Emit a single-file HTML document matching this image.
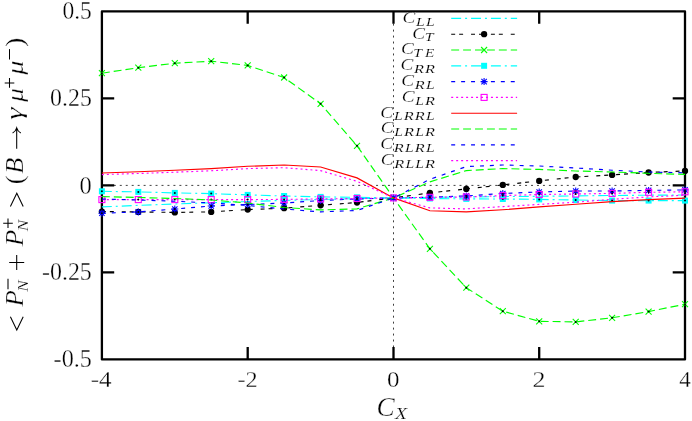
<!DOCTYPE html>
<html><head><meta charset="utf-8"><title>plot</title>
<style>html,body{margin:0;padding:0;background:#fff}body{width:692px;height:421px;overflow:hidden}svg{display:block}</style>
</head><body>
<svg width="692" height="421" viewBox="0 0 692 421">
<rect width="692" height="421" fill="#fff"/>
<rect x="101.9" y="11.4" width="583.1" height="348.0" fill="none" stroke="#000" stroke-width="2.3" stroke-linejoin="round"/>
<path d="M247.7 359.4v-12.3M247.7 11.4v12.3M393.5 359.4v-12.3M393.5 11.4v12.3M539.2 359.4v-12.3M539.2 11.4v12.3M101.9 98.4h12.3M685.0 98.4h-12.3M101.9 185.4h12.3M685.0 185.4h-12.3M101.9 272.4h12.3M685.0 272.4h-12.3" stroke="#000" stroke-width="2.3" fill="none"/>
<line x1="101.9" y1="185.4" x2="685.0" y2="185.4" stroke="#000" stroke-width="0.75" stroke-dasharray="1.99 3.97"/>
<line x1="393.5" y1="359.4" x2="393.5" y2="11.4" stroke="#000" stroke-width="0.75" stroke-dasharray="1.99 3.97"/>
<g id="sLL">
<polyline points="101.9,206.9 138.3,205.4 174.8,204.0 211.2,202.7 247.7,201.5 284.1,200.4 320.6,199.5 357.0,198.6 393.5,197.9 429.9,197.4 466.3,197.0 502.8,196.6 539.2,196.3 575.7,195.9 612.1,195.5 648.6,195.2 685.0,195.0" fill="none" stroke="#00ffff" stroke-width="1.15" stroke-dasharray="9.93 3.97 1.99 3.97"/>
<line x1="451.2" y1="18.4" x2="517.1" y2="18.4" stroke="#00ffff" stroke-width="1.15" stroke-dasharray="9.93 3.97 1.99 3.97"/>
</g>
<g id="sT">
<polyline points="101.9,211.6 138.3,211.9 174.8,212.4 211.2,211.9 247.7,209.6 284.1,208.2 320.6,205.3 357.0,202.5 393.5,197.9 429.9,192.9 466.3,188.9 502.8,184.9 539.2,180.9 575.7,177.0 612.1,174.9 648.6,172.5 685.0,170.9" fill="none" stroke="#000000" stroke-width="1.15" stroke-dasharray="3.97 3.97 3.97 7.94"/>
<circle cx="101.9" cy="211.6" r="3.15" fill="#000000"/>
<circle cx="138.3" cy="211.9" r="3.15" fill="#000000"/>
<circle cx="174.8" cy="212.4" r="3.15" fill="#000000"/>
<circle cx="211.2" cy="211.9" r="3.15" fill="#000000"/>
<circle cx="247.7" cy="209.6" r="3.15" fill="#000000"/>
<circle cx="284.1" cy="208.2" r="3.15" fill="#000000"/>
<circle cx="320.6" cy="205.3" r="3.15" fill="#000000"/>
<circle cx="357.0" cy="202.5" r="3.15" fill="#000000"/>
<circle cx="393.5" cy="197.9" r="3.15" fill="#000000"/>
<circle cx="429.9" cy="192.9" r="3.15" fill="#000000"/>
<circle cx="466.3" cy="188.9" r="3.15" fill="#000000"/>
<circle cx="502.8" cy="184.9" r="3.15" fill="#000000"/>
<circle cx="539.2" cy="180.9" r="3.15" fill="#000000"/>
<circle cx="575.7" cy="177.0" r="3.15" fill="#000000"/>
<circle cx="612.1" cy="174.9" r="3.15" fill="#000000"/>
<circle cx="648.6" cy="172.5" r="3.15" fill="#000000"/>
<circle cx="685.0" cy="170.9" r="3.15" fill="#000000"/>
<line x1="451.2" y1="34.2" x2="517.1" y2="34.2" stroke="#000000" stroke-width="1.15" stroke-dasharray="3.97 3.97 3.97 7.94"/>
<circle cx="484.1" cy="34.2" r="3.15" fill="#000000"/>
</g>
<g id="sTE">
<polyline points="101.9,73.2 138.3,67.7 174.8,63.2 211.2,61.2 247.7,65.4 284.1,77.5 320.6,103.8 357.0,145.8 393.5,197.9 429.9,248.8 466.3,287.7 502.8,311.2 539.2,321.3 575.7,321.9 612.1,317.8 648.6,311.6 685.0,304.2" fill="none" stroke="#00ff00" stroke-width="1.15" stroke-dasharray="7.94 3.97"/>
<path d="M98.9 70.2L104.9 76.2M98.9 76.2L104.9 70.2" stroke="#00ff00" stroke-width="1.1" fill="none"/><circle cx="101.9" cy="73.2" r="1.0" fill="#000"/>
<path d="M135.3 64.7L141.3 70.7M135.3 70.7L141.3 64.7" stroke="#00ff00" stroke-width="1.1" fill="none"/><circle cx="138.3" cy="67.7" r="1.0" fill="#000"/>
<path d="M171.8 60.2L177.8 66.2M171.8 66.2L177.8 60.2" stroke="#00ff00" stroke-width="1.1" fill="none"/><circle cx="174.8" cy="63.2" r="1.0" fill="#000"/>
<path d="M208.2 58.2L214.2 64.2M208.2 64.2L214.2 58.2" stroke="#00ff00" stroke-width="1.1" fill="none"/><circle cx="211.2" cy="61.2" r="1.0" fill="#000"/>
<path d="M244.7 62.4L250.7 68.4M244.7 68.4L250.7 62.4" stroke="#00ff00" stroke-width="1.1" fill="none"/><circle cx="247.7" cy="65.4" r="1.0" fill="#000"/>
<path d="M281.1 74.5L287.1 80.5M281.1 80.5L287.1 74.5" stroke="#00ff00" stroke-width="1.1" fill="none"/><circle cx="284.1" cy="77.5" r="1.0" fill="#000"/>
<path d="M317.6 100.8L323.6 106.8M317.6 106.8L323.6 100.8" stroke="#00ff00" stroke-width="1.1" fill="none"/><circle cx="320.6" cy="103.8" r="1.0" fill="#000"/>
<path d="M354.0 142.8L360.0 148.8M354.0 148.8L360.0 142.8" stroke="#00ff00" stroke-width="1.1" fill="none"/><circle cx="357.0" cy="145.8" r="1.0" fill="#000"/>
<path d="M390.5 194.9L396.5 200.9M390.5 200.9L396.5 194.9" stroke="#00ff00" stroke-width="1.1" fill="none"/><circle cx="393.5" cy="197.9" r="1.0" fill="#000"/>
<path d="M426.9 245.8L432.9 251.8M426.9 251.8L432.9 245.8" stroke="#00ff00" stroke-width="1.1" fill="none"/><circle cx="429.9" cy="248.8" r="1.0" fill="#000"/>
<path d="M463.3 284.7L469.3 290.7M463.3 290.7L469.3 284.7" stroke="#00ff00" stroke-width="1.1" fill="none"/><circle cx="466.3" cy="287.7" r="1.0" fill="#000"/>
<path d="M499.8 308.2L505.8 314.2M499.8 314.2L505.8 308.2" stroke="#00ff00" stroke-width="1.1" fill="none"/><circle cx="502.8" cy="311.2" r="1.0" fill="#000"/>
<path d="M536.2 318.3L542.2 324.3M536.2 324.3L542.2 318.3" stroke="#00ff00" stroke-width="1.1" fill="none"/><circle cx="539.2" cy="321.3" r="1.0" fill="#000"/>
<path d="M572.7 318.9L578.7 324.9M572.7 324.9L578.7 318.9" stroke="#00ff00" stroke-width="1.1" fill="none"/><circle cx="575.7" cy="321.9" r="1.0" fill="#000"/>
<path d="M609.1 314.8L615.1 320.8M609.1 320.8L615.1 314.8" stroke="#00ff00" stroke-width="1.1" fill="none"/><circle cx="612.1" cy="317.8" r="1.0" fill="#000"/>
<path d="M645.6 308.6L651.6 314.6M645.6 314.6L651.6 308.6" stroke="#00ff00" stroke-width="1.1" fill="none"/><circle cx="648.6" cy="311.6" r="1.0" fill="#000"/>
<path d="M682.0 301.2L688.0 307.2M682.0 307.2L688.0 301.2" stroke="#00ff00" stroke-width="1.1" fill="none"/><circle cx="685.0" cy="304.2" r="1.0" fill="#000"/>
<line x1="451.2" y1="50.0" x2="517.1" y2="50.0" stroke="#00ff00" stroke-width="1.15" stroke-dasharray="7.94 3.97"/>
<path d="M481.1 47.0L487.1 53.0M481.1 53.0L487.1 47.0" stroke="#00ff00" stroke-width="1.1" fill="none"/>
</g>
<g id="sRR">
<polyline points="101.9,191.3 138.3,191.9 174.8,192.9 211.2,193.6 247.7,194.9 284.1,196.0 320.6,196.9 357.0,197.3 393.5,197.9 429.9,198.5 466.3,198.9 502.8,199.0 539.2,199.4 575.7,200.0 612.1,200.6 648.6,200.6 685.0,200.6" fill="none" stroke="#00ffff" stroke-width="1.15" stroke-dasharray="9.93 3.97 1.99 3.97"/>
<rect x="98.9" y="188.3" width="6.0" height="6.0" fill="#00ffff"/><circle cx="101.9" cy="191.3" r="1.0" fill="#000"/>
<rect x="135.3" y="188.9" width="6.0" height="6.0" fill="#00ffff"/><circle cx="138.3" cy="191.9" r="1.0" fill="#000"/>
<rect x="171.8" y="189.9" width="6.0" height="6.0" fill="#00ffff"/><circle cx="174.8" cy="192.9" r="1.0" fill="#000"/>
<rect x="208.2" y="190.6" width="6.0" height="6.0" fill="#00ffff"/><circle cx="211.2" cy="193.6" r="1.0" fill="#000"/>
<rect x="244.7" y="191.9" width="6.0" height="6.0" fill="#00ffff"/><circle cx="247.7" cy="194.9" r="1.0" fill="#000"/>
<rect x="281.1" y="193.0" width="6.0" height="6.0" fill="#00ffff"/><circle cx="284.1" cy="196.0" r="1.0" fill="#000"/>
<rect x="317.6" y="193.9" width="6.0" height="6.0" fill="#00ffff"/><circle cx="320.6" cy="196.9" r="1.0" fill="#000"/>
<rect x="354.0" y="194.3" width="6.0" height="6.0" fill="#00ffff"/><circle cx="357.0" cy="197.3" r="1.0" fill="#000"/>
<rect x="390.5" y="194.9" width="6.0" height="6.0" fill="#00ffff"/><circle cx="393.5" cy="197.9" r="1.0" fill="#000"/>
<rect x="426.9" y="195.5" width="6.0" height="6.0" fill="#00ffff"/><circle cx="429.9" cy="198.5" r="1.0" fill="#000"/>
<rect x="463.3" y="195.9" width="6.0" height="6.0" fill="#00ffff"/><circle cx="466.3" cy="198.9" r="1.0" fill="#000"/>
<rect x="499.8" y="196.0" width="6.0" height="6.0" fill="#00ffff"/><circle cx="502.8" cy="199.0" r="1.0" fill="#000"/>
<rect x="536.2" y="196.4" width="6.0" height="6.0" fill="#00ffff"/><circle cx="539.2" cy="199.4" r="1.0" fill="#000"/>
<rect x="572.7" y="197.0" width="6.0" height="6.0" fill="#00ffff"/><circle cx="575.7" cy="200.0" r="1.0" fill="#000"/>
<rect x="609.1" y="197.6" width="6.0" height="6.0" fill="#00ffff"/><circle cx="612.1" cy="200.6" r="1.0" fill="#000"/>
<rect x="645.6" y="197.6" width="6.0" height="6.0" fill="#00ffff"/><circle cx="648.6" cy="200.6" r="1.0" fill="#000"/>
<rect x="682.0" y="197.6" width="6.0" height="6.0" fill="#00ffff"/><circle cx="685.0" cy="200.6" r="1.0" fill="#000"/>
<line x1="451.2" y1="65.8" x2="517.1" y2="65.8" stroke="#00ffff" stroke-width="1.15" stroke-dasharray="9.93 3.97 1.99 3.97"/>
<rect x="481.1" y="62.8" width="6.0" height="6.0" fill="#00ffff"/>
</g>
<g id="sRL">
<polyline points="101.9,213.2 138.3,211.9 174.8,209.0 211.2,206.0 247.7,204.5 284.1,203.0 320.6,200.5 357.0,199.0 393.5,197.9 429.9,197.3 466.3,195.9 502.8,193.5 539.2,192.0 575.7,191.0 612.1,191.0 648.6,190.4 685.0,189.9" fill="none" stroke="#0000ff" stroke-width="1.15" stroke-dasharray="3.97 5.96"/>
<path d="M99.2 210.5L104.6 215.9M99.2 215.9L104.6 210.5M98.4 213.2L105.4 213.2M101.9 209.7L101.9 216.7" stroke="#0000ff" stroke-width="1.1" fill="none"/><circle cx="101.9" cy="213.2" r="1.0" fill="#000"/>
<path d="M135.6 209.2L141.0 214.6M135.6 214.6L141.0 209.2M134.8 211.9L141.8 211.9M138.3 208.4L138.3 215.4" stroke="#0000ff" stroke-width="1.1" fill="none"/><circle cx="138.3" cy="211.9" r="1.0" fill="#000"/>
<path d="M172.1 206.3L177.5 211.7M172.1 211.7L177.5 206.3M171.3 209.0L178.3 209.0M174.8 205.5L174.8 212.5" stroke="#0000ff" stroke-width="1.1" fill="none"/><circle cx="174.8" cy="209.0" r="1.0" fill="#000"/>
<path d="M208.5 203.3L213.9 208.7M208.5 208.7L213.9 203.3M207.7 206.0L214.7 206.0M211.2 202.5L211.2 209.5" stroke="#0000ff" stroke-width="1.1" fill="none"/><circle cx="211.2" cy="206.0" r="1.0" fill="#000"/>
<path d="M245.0 201.8L250.4 207.2M245.0 207.2L250.4 201.8M244.2 204.5L251.2 204.5M247.7 201.0L247.7 208.0" stroke="#0000ff" stroke-width="1.1" fill="none"/><circle cx="247.7" cy="204.5" r="1.0" fill="#000"/>
<path d="M281.4 200.3L286.8 205.7M281.4 205.7L286.8 200.3M280.6 203.0L287.6 203.0M284.1 199.5L284.1 206.5" stroke="#0000ff" stroke-width="1.1" fill="none"/><circle cx="284.1" cy="203.0" r="1.0" fill="#000"/>
<path d="M317.9 197.8L323.3 203.2M317.9 203.2L323.3 197.8M317.1 200.5L324.1 200.5M320.6 197.0L320.6 204.0" stroke="#0000ff" stroke-width="1.1" fill="none"/><circle cx="320.6" cy="200.5" r="1.0" fill="#000"/>
<path d="M354.3 196.3L359.7 201.7M354.3 201.7L359.7 196.3M353.5 199.0L360.5 199.0M357.0 195.5L357.0 202.5" stroke="#0000ff" stroke-width="1.1" fill="none"/><circle cx="357.0" cy="199.0" r="1.0" fill="#000"/>
<path d="M390.8 195.2L396.2 200.6M390.8 200.6L396.2 195.2M390.0 197.9L397.0 197.9M393.5 194.4L393.5 201.4" stroke="#0000ff" stroke-width="1.1" fill="none"/><circle cx="393.5" cy="197.9" r="1.0" fill="#000"/>
<path d="M427.2 194.6L432.6 200.0M427.2 200.0L432.6 194.6M426.4 197.3L433.4 197.3M429.9 193.8L429.9 200.8" stroke="#0000ff" stroke-width="1.1" fill="none"/><circle cx="429.9" cy="197.3" r="1.0" fill="#000"/>
<path d="M463.6 193.2L469.0 198.6M463.6 198.6L469.0 193.2M462.8 195.9L469.8 195.9M466.3 192.4L466.3 199.4" stroke="#0000ff" stroke-width="1.1" fill="none"/><circle cx="466.3" cy="195.9" r="1.0" fill="#000"/>
<path d="M500.1 190.8L505.5 196.2M500.1 196.2L505.5 190.8M499.3 193.5L506.3 193.5M502.8 190.0L502.8 197.0" stroke="#0000ff" stroke-width="1.1" fill="none"/><circle cx="502.8" cy="193.5" r="1.0" fill="#000"/>
<path d="M536.5 189.3L541.9 194.7M536.5 194.7L541.9 189.3M535.7 192.0L542.7 192.0M539.2 188.5L539.2 195.5" stroke="#0000ff" stroke-width="1.1" fill="none"/><circle cx="539.2" cy="192.0" r="1.0" fill="#000"/>
<path d="M573.0 188.3L578.4 193.7M573.0 193.7L578.4 188.3M572.2 191.0L579.2 191.0M575.7 187.5L575.7 194.5" stroke="#0000ff" stroke-width="1.1" fill="none"/><circle cx="575.7" cy="191.0" r="1.0" fill="#000"/>
<path d="M609.4 188.3L614.8 193.7M609.4 193.7L614.8 188.3M608.6 191.0L615.6 191.0M612.1 187.5L612.1 194.5" stroke="#0000ff" stroke-width="1.1" fill="none"/><circle cx="612.1" cy="191.0" r="1.0" fill="#000"/>
<path d="M645.9 187.7L651.3 193.1M645.9 193.1L651.3 187.7M645.1 190.4L652.1 190.4M648.6 186.9L648.6 193.9" stroke="#0000ff" stroke-width="1.1" fill="none"/><circle cx="648.6" cy="190.4" r="1.0" fill="#000"/>
<path d="M682.3 187.2L687.7 192.6M682.3 192.6L687.7 187.2M681.5 189.9L688.5 189.9M685.0 186.4L685.0 193.4" stroke="#0000ff" stroke-width="1.1" fill="none"/><circle cx="685.0" cy="189.9" r="1.0" fill="#000"/>
<line x1="451.2" y1="81.6" x2="517.1" y2="81.6" stroke="#0000ff" stroke-width="1.15" stroke-dasharray="3.97 5.96"/>
<path d="M481.4 78.9L486.8 84.3M481.4 84.3L486.8 78.9M480.6 81.6L487.6 81.6M484.1 78.1L484.1 85.1" stroke="#0000ff" stroke-width="1.1" fill="none"/>
</g>
<g id="sLR">
<polyline points="101.9,199.6 138.3,199.6 174.8,199.6 211.2,199.6 247.7,199.6 284.1,199.4 320.6,198.9 357.0,198.5 393.5,197.9 429.9,197.3 466.3,197.0 502.8,195.6 539.2,194.5 575.7,194.0 612.1,193.4 648.6,192.3 685.0,191.8" fill="none" stroke="#ff00ff" stroke-width="1.15" stroke-dasharray="1.99 2.98"/>
<rect x="98.9" y="196.6" width="6.0" height="6.0" fill="none" stroke="#ff00ff" stroke-width="1.1"/><circle cx="101.9" cy="199.6" r="1.0" fill="#000"/>
<rect x="135.3" y="196.6" width="6.0" height="6.0" fill="none" stroke="#ff00ff" stroke-width="1.1"/><circle cx="138.3" cy="199.6" r="1.0" fill="#000"/>
<rect x="171.8" y="196.6" width="6.0" height="6.0" fill="none" stroke="#ff00ff" stroke-width="1.1"/><circle cx="174.8" cy="199.6" r="1.0" fill="#000"/>
<rect x="208.2" y="196.6" width="6.0" height="6.0" fill="none" stroke="#ff00ff" stroke-width="1.1"/><circle cx="211.2" cy="199.6" r="1.0" fill="#000"/>
<rect x="244.7" y="196.6" width="6.0" height="6.0" fill="none" stroke="#ff00ff" stroke-width="1.1"/><circle cx="247.7" cy="199.6" r="1.0" fill="#000"/>
<rect x="281.1" y="196.4" width="6.0" height="6.0" fill="none" stroke="#ff00ff" stroke-width="1.1"/><circle cx="284.1" cy="199.4" r="1.0" fill="#000"/>
<rect x="317.6" y="195.9" width="6.0" height="6.0" fill="none" stroke="#ff00ff" stroke-width="1.1"/><circle cx="320.6" cy="198.9" r="1.0" fill="#000"/>
<rect x="354.0" y="195.5" width="6.0" height="6.0" fill="none" stroke="#ff00ff" stroke-width="1.1"/><circle cx="357.0" cy="198.5" r="1.0" fill="#000"/>
<rect x="390.5" y="194.9" width="6.0" height="6.0" fill="none" stroke="#ff00ff" stroke-width="1.1"/><circle cx="393.5" cy="197.9" r="1.0" fill="#000"/>
<rect x="426.9" y="194.3" width="6.0" height="6.0" fill="none" stroke="#ff00ff" stroke-width="1.1"/><circle cx="429.9" cy="197.3" r="1.0" fill="#000"/>
<rect x="463.3" y="194.0" width="6.0" height="6.0" fill="none" stroke="#ff00ff" stroke-width="1.1"/><circle cx="466.3" cy="197.0" r="1.0" fill="#000"/>
<rect x="499.8" y="192.6" width="6.0" height="6.0" fill="none" stroke="#ff00ff" stroke-width="1.1"/><circle cx="502.8" cy="195.6" r="1.0" fill="#000"/>
<rect x="536.2" y="191.5" width="6.0" height="6.0" fill="none" stroke="#ff00ff" stroke-width="1.1"/><circle cx="539.2" cy="194.5" r="1.0" fill="#000"/>
<rect x="572.7" y="191.0" width="6.0" height="6.0" fill="none" stroke="#ff00ff" stroke-width="1.1"/><circle cx="575.7" cy="194.0" r="1.0" fill="#000"/>
<rect x="609.1" y="190.4" width="6.0" height="6.0" fill="none" stroke="#ff00ff" stroke-width="1.1"/><circle cx="612.1" cy="193.4" r="1.0" fill="#000"/>
<rect x="645.6" y="189.3" width="6.0" height="6.0" fill="none" stroke="#ff00ff" stroke-width="1.1"/><circle cx="648.6" cy="192.3" r="1.0" fill="#000"/>
<rect x="682.0" y="188.8" width="6.0" height="6.0" fill="none" stroke="#ff00ff" stroke-width="1.1"/><circle cx="685.0" cy="191.8" r="1.0" fill="#000"/>
<line x1="451.2" y1="97.4" x2="517.1" y2="97.4" stroke="#ff00ff" stroke-width="1.15" stroke-dasharray="1.99 2.98"/>
<rect x="481.1" y="94.4" width="6.0" height="6.0" fill="none" stroke="#ff00ff" stroke-width="1.1"/>
</g>
<g id="sLRRL">
<polyline points="101.9,173.0 138.3,171.8 174.8,170.2 211.2,168.6 247.7,166.3 284.1,165.0 320.6,167.0 357.0,177.9 393.5,197.9 429.9,210.7 466.3,211.9 502.8,209.8 539.2,206.9 575.7,204.2 612.1,201.6 648.6,199.6 685.0,198.1" fill="none" stroke="#ff0000" stroke-width="1.15"/>
<line x1="451.2" y1="113.2" x2="517.1" y2="113.2" stroke="#ff0000" stroke-width="1.15"/>
</g>
<g id="sLRLR">
<polyline points="101.9,196.6 138.3,197.5 174.8,198.5 211.2,200.0 247.7,203.0 284.1,207.5 320.6,209.9 357.0,208.9 393.5,197.9 429.9,181.9 466.3,170.6 502.8,168.6 539.2,169.4 575.7,171.0 612.1,172.0 648.6,173.3 685.0,174.4" fill="none" stroke="#00ff00" stroke-width="1.15" stroke-dasharray="7.94 3.97"/>
<line x1="451.2" y1="129.0" x2="517.1" y2="129.0" stroke="#00ff00" stroke-width="1.15" stroke-dasharray="7.94 3.97"/>
</g>
<g id="sRLRL">
<polyline points="101.9,199.0 138.3,200.0 174.8,201.2 211.2,203.0 247.7,205.5 284.1,209.0 320.6,211.9 357.0,210.5 393.5,197.9 429.9,179.3 466.3,166.6 502.8,165.0 539.2,166.0 575.7,168.0 612.1,170.2 648.6,172.0 685.0,172.8" fill="none" stroke="#0000ff" stroke-width="1.15" stroke-dasharray="3.97 5.96"/>
<line x1="451.2" y1="144.8" x2="517.1" y2="144.8" stroke="#0000ff" stroke-width="1.15" stroke-dasharray="3.97 5.96"/>
</g>
<g id="sRLLR">
<polyline points="101.9,174.6 138.3,173.5 174.8,172.2 211.2,170.8 247.7,168.6 284.1,167.7 320.6,170.6 357.0,181.3 393.5,197.9 429.9,207.9 466.3,208.9 502.8,206.6 539.2,204.4 575.7,202.2 612.1,199.3 648.6,196.9 685.0,195.2" fill="none" stroke="#ff00ff" stroke-width="1.15" stroke-dasharray="1.99 2.98"/>
<line x1="451.2" y1="160.6" x2="517.1" y2="160.6" stroke="#ff00ff" stroke-width="1.15" stroke-dasharray="1.99 2.98"/>
</g>
<g id="ytick" fill="#000" style="filter:grayscale(1)">
<text transform="translate(62.41,19.48) scale(0.956,1)" style="font-family:'Liberation Serif',serif;font-size:24.63px" stroke="#fff" stroke-width="0.32" vector-effect="non-scaling-stroke">0.5</text>
<text transform="translate(50.09,106.48) scale(0.969,1)" style="font-family:'Liberation Serif',serif;font-size:24.63px" stroke="#fff" stroke-width="0.32" vector-effect="non-scaling-stroke">0.25</text>
<text transform="translate(79.57,193.60) scale(0.988,1)" style="font-family:'Liberation Serif',serif;font-size:24.81px" stroke="#fff" stroke-width="0.32" vector-effect="non-scaling-stroke">0</text>
<text transform="translate(41.99,280.48) scale(0.972,1)" style="font-family:'Liberation Serif',serif;font-size:24.63px" stroke="#fff" stroke-width="0.32" vector-effect="non-scaling-stroke">-0.25</text>
<text transform="translate(53.58,367.48) scale(0.983,1)" style="font-family:'Liberation Serif',serif;font-size:24.63px" stroke="#fff" stroke-width="0.32" vector-effect="non-scaling-stroke">-0.5</text>
</g>
<g id="xtick" fill="#000" style="filter:grayscale(1)">
<text transform="translate(90.65,387.20) scale(1.060,1)" style="font-family:'Liberation Serif',serif;font-size:23.71px" stroke="#fff" stroke-width="0.31" vector-effect="non-scaling-stroke">-4</text>
<text transform="translate(237.48,387.20) scale(1.019,1)" style="font-family:'Liberation Serif',serif;font-size:23.87px" stroke="#fff" stroke-width="0.31" vector-effect="non-scaling-stroke">-2</text>
<text transform="translate(387.05,387.36) scale(1.042,1)" style="font-family:'Liberation Serif',serif;font-size:24.00px" stroke="#fff" stroke-width="0.31" vector-effect="non-scaling-stroke">0</text>
<text transform="translate(532.43,387.20) scale(1.089,1)" style="font-family:'Liberation Serif',serif;font-size:23.87px" stroke="#fff" stroke-width="0.31" vector-effect="non-scaling-stroke">2</text>
<text transform="translate(679.14,387.20) scale(0.971,1)" style="font-family:'Liberation Serif',serif;font-size:23.71px" stroke="#fff" stroke-width="0.31" vector-effect="non-scaling-stroke">4</text>
</g>
<g id="xlab" fill="#000" style="filter:grayscale(1)">
<text transform="translate(376.50,416.44) scale(1.035,1)" style="font-family:'Liberation Serif',serif;font-size:26.34px;font-style:italic" stroke="#fff" stroke-width="0.34" vector-effect="non-scaling-stroke">C</text>
<text transform="translate(395.03,418.90) scale(1.175,1)" style="font-family:'Liberation Serif',serif;font-size:16.79px;font-style:italic" stroke="#fff" stroke-width="0.22" vector-effect="non-scaling-stroke">X</text>
</g>
<g id="legtxt" fill="#000" style="filter:grayscale(1)">
<text transform="translate(402.54,22.84) scale(1.194,1)" style="font-family:'Liberation Serif',serif;font-size:16.07px;font-style:italic" stroke="#fff" stroke-width="0.21" vector-effect="non-scaling-stroke">C</text>
<text transform="translate(416.09,25.50) scale(1.232,1)" style="font-family:'Liberation Serif',serif;font-size:12.67px;font-style:italic" stroke="#fff" stroke-width="0.16" vector-effect="non-scaling-stroke">L</text>
<text transform="translate(425.99,25.50) scale(1.232,1)" style="font-family:'Liberation Serif',serif;font-size:12.67px;font-style:italic" stroke="#fff" stroke-width="0.16" vector-effect="non-scaling-stroke">L</text>
<text transform="translate(412.34,38.64) scale(1.194,1)" style="font-family:'Liberation Serif',serif;font-size:16.07px;font-style:italic" stroke="#fff" stroke-width="0.21" vector-effect="non-scaling-stroke">C</text>
<text transform="translate(424.67,41.30) scale(1.248,1)" style="font-family:'Liberation Serif',serif;font-size:12.67px;font-style:italic" stroke="#fff" stroke-width="0.16" vector-effect="non-scaling-stroke">T</text>
<text transform="translate(401.04,54.44) scale(1.194,1)" style="font-family:'Liberation Serif',serif;font-size:16.07px;font-style:italic" stroke="#fff" stroke-width="0.21" vector-effect="non-scaling-stroke">C</text>
<text transform="translate(413.37,57.10) scale(1.248,1)" style="font-family:'Liberation Serif',serif;font-size:12.67px;font-style:italic" stroke="#fff" stroke-width="0.16" vector-effect="non-scaling-stroke">T</text>
<text transform="translate(425.08,57.10) scale(1.209,1)" style="font-family:'Liberation Serif',serif;font-size:12.67px;font-style:italic" stroke="#fff" stroke-width="0.16" vector-effect="non-scaling-stroke">E</text>
<text transform="translate(400.54,70.24) scale(1.194,1)" style="font-family:'Liberation Serif',serif;font-size:16.07px;font-style:italic" stroke="#fff" stroke-width="0.21" vector-effect="non-scaling-stroke">C</text>
<text transform="translate(413.98,72.90) scale(1.289,1)" style="font-family:'Liberation Serif',serif;font-size:12.67px;font-style:italic" stroke="#fff" stroke-width="0.16" vector-effect="non-scaling-stroke">R</text>
<text transform="translate(425.08,72.90) scale(1.289,1)" style="font-family:'Liberation Serif',serif;font-size:12.67px;font-style:italic" stroke="#fff" stroke-width="0.16" vector-effect="non-scaling-stroke">R</text>
<text transform="translate(401.34,86.04) scale(1.194,1)" style="font-family:'Liberation Serif',serif;font-size:16.07px;font-style:italic" stroke="#fff" stroke-width="0.21" vector-effect="non-scaling-stroke">C</text>
<text transform="translate(414.78,88.70) scale(1.289,1)" style="font-family:'Liberation Serif',serif;font-size:12.67px;font-style:italic" stroke="#fff" stroke-width="0.16" vector-effect="non-scaling-stroke">R</text>
<text transform="translate(425.99,88.70) scale(1.232,1)" style="font-family:'Liberation Serif',serif;font-size:12.67px;font-style:italic" stroke="#fff" stroke-width="0.16" vector-effect="non-scaling-stroke">L</text>
<text transform="translate(401.74,101.84) scale(1.194,1)" style="font-family:'Liberation Serif',serif;font-size:16.07px;font-style:italic" stroke="#fff" stroke-width="0.21" vector-effect="non-scaling-stroke">C</text>
<text transform="translate(415.29,104.50) scale(1.232,1)" style="font-family:'Liberation Serif',serif;font-size:12.67px;font-style:italic" stroke="#fff" stroke-width="0.16" vector-effect="non-scaling-stroke">L</text>
<text transform="translate(425.08,104.50) scale(1.289,1)" style="font-family:'Liberation Serif',serif;font-size:12.67px;font-style:italic" stroke="#fff" stroke-width="0.16" vector-effect="non-scaling-stroke">R</text>
<text transform="translate(380.34,117.64) scale(1.194,1)" style="font-family:'Liberation Serif',serif;font-size:16.07px;font-style:italic" stroke="#fff" stroke-width="0.21" vector-effect="non-scaling-stroke">C</text>
<text transform="translate(393.89,120.30) scale(1.232,1)" style="font-family:'Liberation Serif',serif;font-size:12.67px;font-style:italic" stroke="#fff" stroke-width="0.16" vector-effect="non-scaling-stroke">L</text>
<text transform="translate(403.68,120.30) scale(1.289,1)" style="font-family:'Liberation Serif',serif;font-size:12.67px;font-style:italic" stroke="#fff" stroke-width="0.16" vector-effect="non-scaling-stroke">R</text>
<text transform="translate(414.78,120.30) scale(1.289,1)" style="font-family:'Liberation Serif',serif;font-size:12.67px;font-style:italic" stroke="#fff" stroke-width="0.16" vector-effect="non-scaling-stroke">R</text>
<text transform="translate(425.99,120.30) scale(1.232,1)" style="font-family:'Liberation Serif',serif;font-size:12.67px;font-style:italic" stroke="#fff" stroke-width="0.16" vector-effect="non-scaling-stroke">L</text>
<text transform="translate(380.74,133.44) scale(1.194,1)" style="font-family:'Liberation Serif',serif;font-size:16.07px;font-style:italic" stroke="#fff" stroke-width="0.21" vector-effect="non-scaling-stroke">C</text>
<text transform="translate(394.29,136.10) scale(1.232,1)" style="font-family:'Liberation Serif',serif;font-size:12.67px;font-style:italic" stroke="#fff" stroke-width="0.16" vector-effect="non-scaling-stroke">L</text>
<text transform="translate(404.08,136.10) scale(1.289,1)" style="font-family:'Liberation Serif',serif;font-size:12.67px;font-style:italic" stroke="#fff" stroke-width="0.16" vector-effect="non-scaling-stroke">R</text>
<text transform="translate(415.29,136.10) scale(1.232,1)" style="font-family:'Liberation Serif',serif;font-size:12.67px;font-style:italic" stroke="#fff" stroke-width="0.16" vector-effect="non-scaling-stroke">L</text>
<text transform="translate(425.08,136.10) scale(1.289,1)" style="font-family:'Liberation Serif',serif;font-size:12.67px;font-style:italic" stroke="#fff" stroke-width="0.16" vector-effect="non-scaling-stroke">R</text>
<text transform="translate(380.34,149.24) scale(1.194,1)" style="font-family:'Liberation Serif',serif;font-size:16.07px;font-style:italic" stroke="#fff" stroke-width="0.21" vector-effect="non-scaling-stroke">C</text>
<text transform="translate(393.78,151.90) scale(1.289,1)" style="font-family:'Liberation Serif',serif;font-size:12.67px;font-style:italic" stroke="#fff" stroke-width="0.16" vector-effect="non-scaling-stroke">R</text>
<text transform="translate(404.99,151.90) scale(1.232,1)" style="font-family:'Liberation Serif',serif;font-size:12.67px;font-style:italic" stroke="#fff" stroke-width="0.16" vector-effect="non-scaling-stroke">L</text>
<text transform="translate(414.78,151.90) scale(1.289,1)" style="font-family:'Liberation Serif',serif;font-size:12.67px;font-style:italic" stroke="#fff" stroke-width="0.16" vector-effect="non-scaling-stroke">R</text>
<text transform="translate(425.99,151.90) scale(1.232,1)" style="font-family:'Liberation Serif',serif;font-size:12.67px;font-style:italic" stroke="#fff" stroke-width="0.16" vector-effect="non-scaling-stroke">L</text>
<text transform="translate(380.74,165.04) scale(1.194,1)" style="font-family:'Liberation Serif',serif;font-size:16.07px;font-style:italic" stroke="#fff" stroke-width="0.21" vector-effect="non-scaling-stroke">C</text>
<text transform="translate(394.18,167.70) scale(1.289,1)" style="font-family:'Liberation Serif',serif;font-size:12.67px;font-style:italic" stroke="#fff" stroke-width="0.16" vector-effect="non-scaling-stroke">R</text>
<text transform="translate(405.39,167.70) scale(1.232,1)" style="font-family:'Liberation Serif',serif;font-size:12.67px;font-style:italic" stroke="#fff" stroke-width="0.16" vector-effect="non-scaling-stroke">L</text>
<text transform="translate(415.29,167.70) scale(1.232,1)" style="font-family:'Liberation Serif',serif;font-size:12.67px;font-style:italic" stroke="#fff" stroke-width="0.16" vector-effect="non-scaling-stroke">L</text>
<text transform="translate(425.08,167.70) scale(1.289,1)" style="font-family:'Liberation Serif',serif;font-size:12.67px;font-style:italic" stroke="#fff" stroke-width="0.16" vector-effect="non-scaling-stroke">R</text>
</g>
<g id="ylab" fill="#000" style="filter:grayscale(1)" transform="translate(22.8,330.4) rotate(-90)">
<path d="M13.6 -12.4L0.4 -6.0L13.6 0.4" stroke="#000" stroke-width="1.05" fill="none"/>
<text transform="translate(23.83,0.00) scale(1.019,1)" style="font-family:'Liberation Serif',serif;font-size:26.11px;font-style:italic" stroke="#fff" stroke-width="0.34" vector-effect="non-scaling-stroke">P</text>
<text transform="translate(38.54,5.20) scale(1.119,1)" style="font-family:'Liberation Serif',serif;font-size:15.27px;font-style:italic" stroke="#fff" stroke-width="0.20" vector-effect="non-scaling-stroke">N</text>
<path d="M41.2 -14.8h10.4" stroke="#000" stroke-width="1.05" fill="none"/>
<path d="M60.3 -6.1h15.0M67.8 -13.6v15.0" stroke="#000" stroke-width="1.05" fill="none"/>
<text transform="translate(84.04,0.00) scale(1.045,1)" style="font-family:'Liberation Serif',serif;font-size:26.11px;font-style:italic" stroke="#fff" stroke-width="0.34" vector-effect="non-scaling-stroke">P</text>
<text transform="translate(99.24,5.20) scale(1.119,1)" style="font-family:'Liberation Serif',serif;font-size:15.27px;font-style:italic" stroke="#fff" stroke-width="0.20" vector-effect="non-scaling-stroke">N</text>
<path d="M102.3 -14.8h9.6M107.1 -19.6v9.6" stroke="#000" stroke-width="1.05" fill="none"/>
<path d="M123.8 -12.4L137.1 -6.0L123.8 0.4" stroke="#000" stroke-width="1.05" fill="none"/>
<text transform="translate(146.22,0.16) scale(1.006,1)" style="font-family:'Liberation Serif',serif;font-size:26.13px" stroke="#fff" stroke-width="0.34" vector-effect="non-scaling-stroke">(</text>
<text transform="translate(156.74,-0.05) scale(1.007,1)" style="font-family:'Liberation Serif',serif;font-size:26.03px;font-style:italic" stroke="#fff" stroke-width="0.34" vector-effect="non-scaling-stroke">B</text>
<path d="M181.7 -6.1H202.2M197.4 -10.2Q199 -7.2 202.6 -6.1Q199 -5 197.4 -2" stroke="#000" stroke-width="1.05" fill="none"/>
<text transform="translate(210.54,-0.31) scale(1.285,1)" style="font-family:'Liberation Serif',serif;font-size:24.11px;font-style:italic" stroke="#fff" stroke-width="0.31" vector-effect="non-scaling-stroke">γ</text>
<text transform="translate(228.40,0.57) scale(1.165,1)" style="font-family:'Liberation Serif',serif;font-size:23.85px;font-style:italic" stroke="#fff" stroke-width="0.31" vector-effect="non-scaling-stroke">μ</text>
<path d="M242.7 -13.3h9.6M247.5 -18.1v9.6" stroke="#000" stroke-width="1.05" fill="none"/>
<text transform="translate(255.70,0.57) scale(1.191,1)" style="font-family:'Liberation Serif',serif;font-size:23.85px;font-style:italic" stroke="#fff" stroke-width="0.31" vector-effect="non-scaling-stroke">μ</text>
<path d="M270.9 -13.3h10.4" stroke="#000" stroke-width="1.05" fill="none"/>
<text transform="translate(283.48,0.16) scale(1.098,1)" style="font-family:'Liberation Serif',serif;font-size:26.13px" stroke="#fff" stroke-width="0.34" vector-effect="non-scaling-stroke">)</text>
</g>
</svg>
</body></html>
